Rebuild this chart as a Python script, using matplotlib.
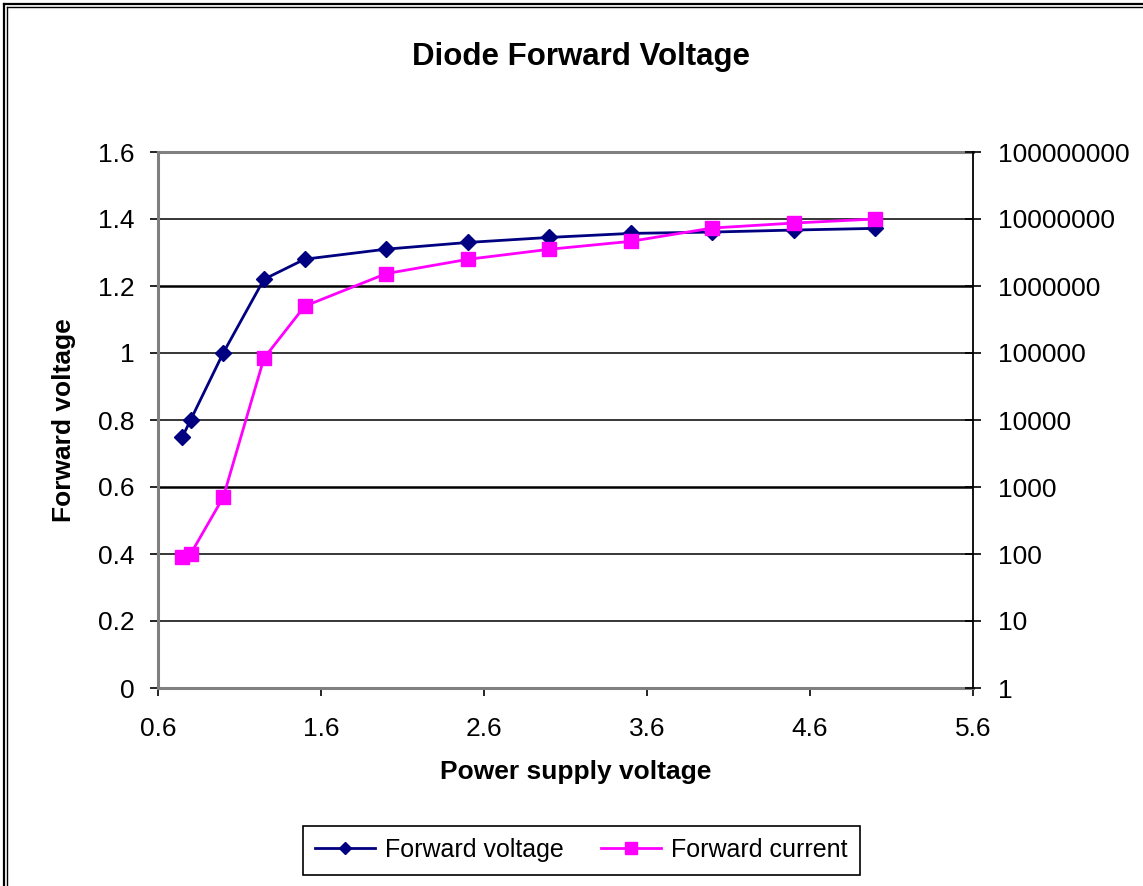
import matplotlib
matplotlib.use("Agg")
import matplotlib.pyplot as plt
from matplotlib.lines import Line2D
from matplotlib.ticker import FixedLocator, FixedFormatter

plt.rcParams['font.family'] = ['Liberation Sans', 'DejaVu Sans']

# Measurements
supply_voltage = [0.75, 0.80, 1.00, 1.25, 1.50, 2.00, 2.50, 3.00, 3.50, 4.00, 4.50, 5.00]
forward_voltage = [0.75, 0.80, 1.00, 1.22, 1.28, 1.31, 1.33, 1.345, 1.357, 1.361, 1.367, 1.372]
forward_current = [91, 100, 700, 83500, 500000, 1530000, 2500000, 3530000, 4640000,
                   7330000, 8700000, 10000000]

x_ticks = [0.6, 1.6, 2.6, 3.6, 4.6, 5.6]
left_ticks = [0, 0.2, 0.4, 0.6, 0.8, 1.0, 1.2, 1.4, 1.6]
left_labels = ['0', '0.2', '0.4', '0.6', '0.8', '1', '1.2', '1.4', '1.6']
right_ticks = [1, 10, 100, 1000, 10000, 100000, 1000000, 10000000, 100000000]
right_labels = ['1', '10', '100', '1000', '10000', '100000', '1000000', '10000000', '100000000']

W, H = 1143, 886
fig = plt.figure(figsize=(W / 100, H / 100), dpi=100)
ax = fig.add_axes([158 / W, 1 - 688 / H, (973 - 158) / W, (688 - 152) / H])
ax2 = ax.twinx()

GRAY = '#808080'
NAVY = '#000080'
MAGENTA = '#FF00FF'
TICK_FS = 19
LABEL_FS = 19

# Left axis: forward voltage
ax.set_xlim(0.6, 5.6)
ax.set_ylim(0, 1.6)
ax.xaxis.set_major_locator(FixedLocator(x_ticks))
ax.xaxis.set_major_formatter(FixedFormatter([f'{v:.1f}' for v in x_ticks]))
ax.yaxis.set_major_locator(FixedLocator(left_ticks))
ax.yaxis.set_major_formatter(FixedFormatter(left_labels))
for v in left_ticks[1:-1]:
    ax.axhline(v, color='black', lw=1.8 if v in (0.6, 1.2) else 1.1, zorder=0.5)

ax.plot(supply_voltage, forward_voltage, color=NAVY, lw=2.0, marker='D',
        markersize=8, markerfacecolor=NAVY, markeredgecolor=NAVY,
        label='Forward voltage', zorder=3)

for side in ('left', 'top', 'bottom'):
    ax.spines[side].set_color(GRAY)
    ax.spines[side].set_linewidth(2.2)
ax.spines['right'].set_visible(False)
ax.tick_params(axis='x', direction='out', length=6, width=1.2, color='black',
               labelsize=TICK_FS, pad=15)
ax.tick_params(axis='y', direction='out', length=6, width=1.2, color='black',
               labelsize=TICK_FS, pad=11)

# Right axis: forward current (log scale)
ax2.set_yscale('log')
ax2.set_ylim(1, 1e8)
ax2.yaxis.set_major_locator(FixedLocator(right_ticks))
ax2.yaxis.set_major_formatter(FixedFormatter(right_labels))
ax2.yaxis.set_minor_locator(FixedLocator([]))
ax2.plot(supply_voltage, forward_current, color=MAGENTA, lw=2.0, marker='s',
         markersize=10.5, markerfacecolor=MAGENTA, markeredgecolor=MAGENTA,
         label='Forward current', zorder=3)
for side in ('left', 'top', 'bottom'):
    ax2.spines[side].set_visible(False)
ax2.spines['right'].set_color('black')
ax2.spines['right'].set_linewidth(1.3)
ax2.tick_params(axis='y', direction='inout', length=12, width=1.2, color='black',
                labelsize=TICK_FS, pad=12)

ax.set_xlabel('Power supply voltage', fontsize=LABEL_FS, fontweight='bold')
ax.xaxis.set_label_coords(0.513, -0.135)
ax.set_ylabel('Forward voltage', fontsize=LABEL_FS, fontweight='bold', labelpad=16)

fig.text(581 / W, 1 - 57 / H, 'Diode Forward Voltage', fontsize=22.5,
         fontweight='bold', ha='center', va='center')

handles = [ax.get_lines()[-1], ax2.get_lines()[-1]]
leg = fig.legend(handles, [h.get_label() for h in handles], loc='center',
                 bbox_to_anchor=(581.5 / W, 1 - 850 / H), ncol=2, fontsize=18,
                 frameon=True, fancybox=False, edgecolor='black', framealpha=1,
                 handlelength=2.4, handletextpad=0.4, columnspacing=1.5,
                 borderpad=0.5, borderaxespad=0, markerscale=0.8)
leg.get_frame().set_linewidth(1.2)

# Outer frame (left and top edges, double line)
for off in (3.5, 7.0):
    fig.add_artist(Line2D([off / W, off / W], [0, 1 - off / H], color='black',
                          lw=1.6 if off < 5 else 1.0, transform=fig.transFigure))
    fig.add_artist(Line2D([off / W, 1], [1 - off / H, 1 - off / H], color='black',
                          lw=1.6 if off < 5 else 1.0, transform=fig.transFigure))

fig.savefig('out.png', dpi=100, facecolor='white')
